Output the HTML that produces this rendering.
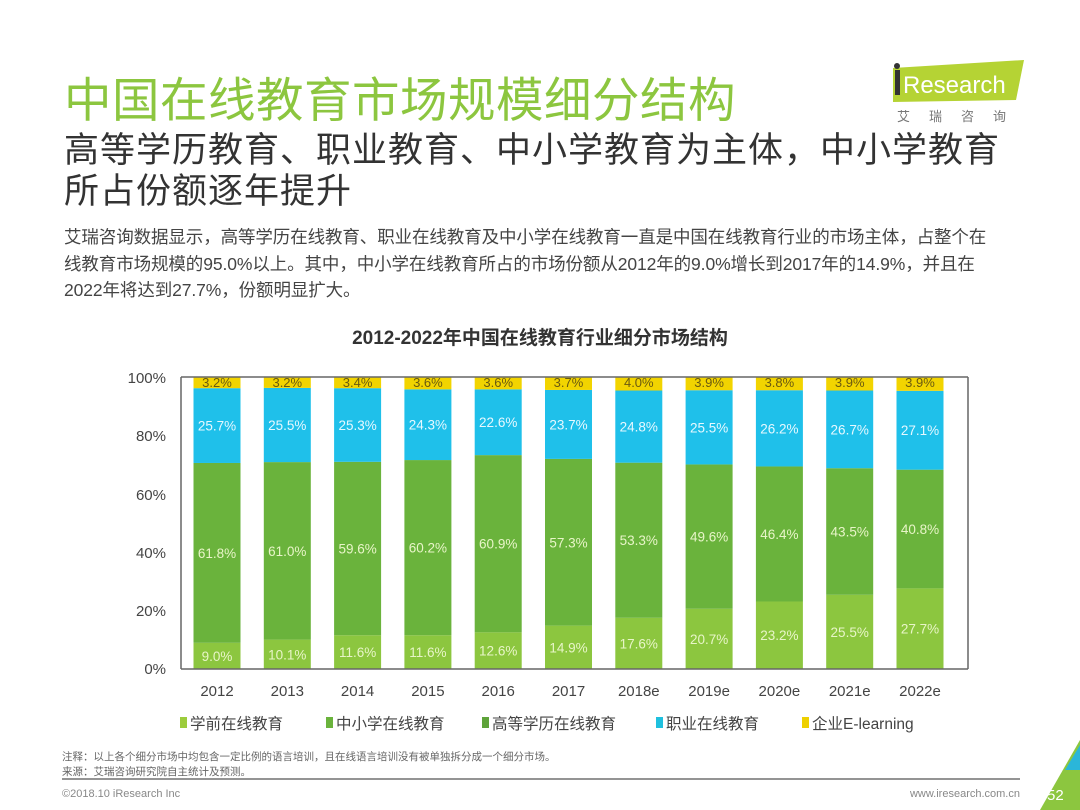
<!DOCTYPE html>
<html><head><meta charset="utf-8"><style>
body{margin:0;width:1080px;height:810px;background:#fff;position:relative;overflow:hidden;font-family:"Liberation Sans","Noto Sans CJK SC",sans-serif}
.a{position:absolute;white-space:nowrap}
</style></head><body>
<div class="a" style="left:64px;top:62px;font-size:47.5px;color:#8cc63f;letter-spacing:0.5px">中国在线教育市场规模细分结构</div>
<div class="a" style="left:64px;top:130px;font-size:35px;color:#333;line-height:41px;letter-spacing:1px">高等学历教育、职业教育、中小学教育为主体，中小学教育<br>所占份额逐年提升</div>
<div class="a" style="left:64px;top:224px;font-size:17.5px;color:#444;line-height:26.5px;letter-spacing:-0.1px">艾瑞咨询数据显示，高等学历在线教育、职业在线教育及中小学在线教育一直是中国在线教育行业的市场主体，占整个在<br>线教育市场规模的95.0%以上。其中，中小学在线教育所占的市场份额从2012年的9.0%增长到2017年的14.9%，并且在<br>2022年将达到27.7%，份额明显扩大。</div>
<svg class="a" style="left:0;top:0" width="1080" height="810">
<polygon points="893,68 1024,60 1016,100 893,102" fill="#b5d334"/>
<rect x="895" y="70" width="5" height="25" fill="#333"/>
<circle cx="897" cy="66" r="3" fill="#333"/>
<text x="903" y="93" font-size="24" fill="#fff" font-family="Liberation Sans">Research</text>
<text x="897" y="121" font-size="13" fill="#777" letter-spacing="19" font-family="Noto Sans CJK SC">艾瑞咨询</text>
<text x="540" y="344" text-anchor="middle" font-size="19" font-weight="bold" fill="#333">2012-2022年中国在线教育行业细分市场结构</text>
<g id="bars"></g>
<line x1="181" y1="377" x2="181" y2="669" stroke="#666" stroke-width="1.5"/>
<line x1="181" y1="669" x2="968" y2="669" stroke="#666" stroke-width="1.5"/>
<line x1="968" y1="377" x2="968" y2="669" stroke="#666" stroke-width="1.5"/>
<line x1="181" y1="377" x2="968" y2="377" stroke="#666" stroke-width="1.5"/>
<g font-size="15" fill="#444" text-anchor="end">
<text x="166" y="383">100%</text><text x="166" y="441">80%</text><text x="166" y="500">60%</text><text x="166" y="558">40%</text><text x="166" y="616">20%</text><text x="166" y="674">0%</text>
</g>
<g font-size="15" fill="#444" text-anchor="middle" id="xl"></g>
<g font-size="15.5" fill="#444">
<rect x="180" y="717" width="7" height="11" fill="#9ccc3c"/><text x="190" y="729">学前在线教育</text>
<rect x="326" y="717" width="7" height="11" fill="#6ab33c"/><text x="336" y="729">中小学在线教育</text>
<rect x="482" y="717" width="7" height="11" fill="#5ea33a"/><text x="492" y="729">高等学历在线教育</text>
<rect x="656" y="717" width="7" height="11" fill="#1fc0de"/><text x="666" y="729">职业在线教育</text>
<rect x="802" y="717" width="7" height="11" fill="#eed000"/><text x="812" y="729">企业E-learning</text>
</g>
<text x="62" y="760" font-size="10.5" fill="#666">注释：以上各个细分市场中均包含一定比例的语言培训，且在线语言培训没有被单独拆分成一个细分市场。</text>
<text x="62" y="775" font-size="10.5" fill="#666">来源：艾瑞咨询研究院自主统计及预测。</text>
<line x1="62" y1="779" x2="1020" y2="779" stroke="#555" stroke-width="1.2"/>
<text x="62" y="797" font-size="11" fill="#888">©2018.10 iResearch Inc</text>
<text x="1020" y="797" font-size="11" fill="#888" text-anchor="end">www.iresearch.com.cn</text>
<polygon points="1040,810 1080,740 1080,810" fill="#8cc63f"/>
<polygon points="1065,770 1080,745 1080,770" fill="#2bb6d9"/>
<text x="1047" y="800" font-size="15" fill="#fff">52</text>
</svg>
<script>
var K=[9.0,10.1,11.6,11.6,12.6,14.9,17.6,20.7,23.2,25.5,27.7],H=[61.8,61.0,59.6,60.2,60.9,57.3,53.3,49.6,46.4,43.5,40.8],V=[25.7,25.5,25.3,24.3,22.6,23.7,24.8,25.5,26.2,26.7,27.1],E=[3.2,3.2,3.4,3.6,3.6,3.7,4.0,3.9,3.8,3.9,3.9];
var Y=['2012','2013','2014','2015','2016','2017','2018e','2019e','2020e','2021e','2022e'];
var s='',x='',b=669,u=2.91;
for(var i=0;i<11;i++){var c=217+i*70.3,l=c-23.5,w=47;
var y0=b-K[i]*u,y1=y0-H[i]*u,y2=y1-V[i]*u,t=377;
s+='<rect x="'+l+'" y="'+y0+'" width="'+w+'" height="'+(b-y0)+'" fill="#8cc63f"/>';
s+='<rect x="'+l+'" y="'+y1+'" width="'+w+'" height="'+(y0-y1)+'" fill="#6ab33c"/>';
s+='<rect x="'+l+'" y="'+y2+'" width="'+w+'" height="'+(y1-y2)+'" fill="#1fc0ea"/>';
s+='<rect x="'+l+'" y="'+t+'" width="'+w+'" height="'+(y2-t)+'" fill="#f2d400"/>';
s+='<text x="'+c+'" y="'+((b+y0)/2+5)+'" text-anchor="middle" font-size="13.5" fill="#e8f5c8">'+K[i].toFixed(1)+'%</text>';
s+='<text x="'+c+'" y="'+((y0+y1)/2+5)+'" text-anchor="middle" font-size="13.5" fill="#e8f5c8">'+H[i].toFixed(1)+'%</text>';
s+='<text x="'+c+'" y="'+((y1+y2)/2+5)+'" text-anchor="middle" font-size="13.5" fill="#e6f8ff">'+V[i].toFixed(1)+'%</text>';
s+='<text x="'+c+'" y="'+(t+10)+'" text-anchor="middle" font-size="13" fill="#6a5a10">'+E[i].toFixed(1)+'%</text>';
x+='<text x="'+c+'" y="696">'+Y[i]+'</text>';}
document.getElementById('bars').innerHTML=s;document.getElementById('xl').innerHTML=x;
</script>
</body></html>
